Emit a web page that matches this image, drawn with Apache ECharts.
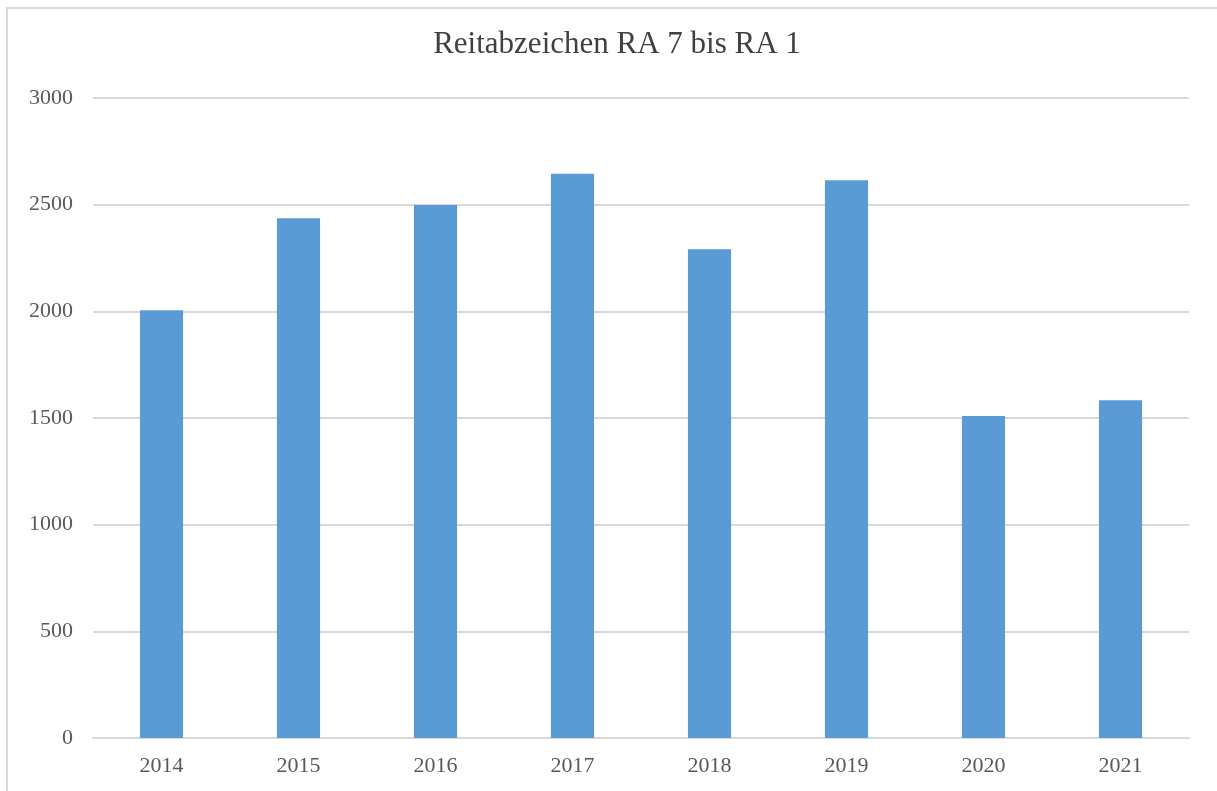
<!DOCTYPE html>
<html>
<head>
<meta charset="utf-8">
<title>Reitabzeichen RA 7 bis RA 1</title>
<script src="https://cdn.jsdelivr.net/npm/echarts@6/dist/echarts.min.js"></script>
<style>
    html, body { margin: 0; padding: 0; background: #fff; }
    .frame {
        position: absolute; left: 6px; top: 7px;
        width: 1211px; height: 784px;
        border-top: 2px solid #d9d9d9; border-left: 2px solid #d9d9d9;
    }
    #chart { position: absolute; left: 0; top: 0; width: 1217px; height: 791px; }
</style>
</head>
<body>
<div class="frame"></div>
<div id="chart"></div>
<script>
    // Jahre und Anzahl abgelegter Reitabzeichen
    const years = ["2014", "2015", "2016", "2017", "2018", "2019", "2020", "2021"];
    const counts = [2005, 2436, 2498, 2645, 2291, 2614, 1509, 1583];
    const yTicks = [0, 500, 1000, 1500, 2000, 2500, 3000];

    const serif = "'Liberation Serif', 'DejaVu Serif', serif";
    let chart = echarts.init(document.getElementById("chart"));
    chart.setOption({
        animation: false,
        title: {
            text: "Reitabzeichen RA 7 bis RA 1",
            left: 612,
            top: 24,
            textAlign: "center",
            textStyle: { fontFamily: serif, fontSize: 31, fontWeight: "normal", color: "#404040" }
        },
        grid: { left: 93, right: 28, top: 98, bottom: 53 },
        xAxis: {
            type: "category",
            data: years,
            axisLine: { lineStyle: { color: "#d9d9d9", width: 2 } },
            axisTick: { show: false },
            axisLabel: { fontFamily: serif, fontSize: 22, color: "#595959", margin: 17 }
        },
        yAxis: {
            type: "value",
            min: yTicks[0],
            max: yTicks[yTicks.length - 1],
            interval: yTicks[1] - yTicks[0],
            axisLine: { show: false },
            axisTick: { show: false },
            splitLine: { lineStyle: { color: "#d9d9d9", width: 2 } },
            axisLabel: {
                fontFamily: serif, fontSize: 22, color: "#595959", margin: 20,
                formatter: v => String(v)
            }
        },
        series: [{
            type: "bar",
            data: counts,
            barWidth: "31.5%",
            itemStyle: { color: "#5b9bd5" }
        }]
    });
</script>
</body>
</html>
